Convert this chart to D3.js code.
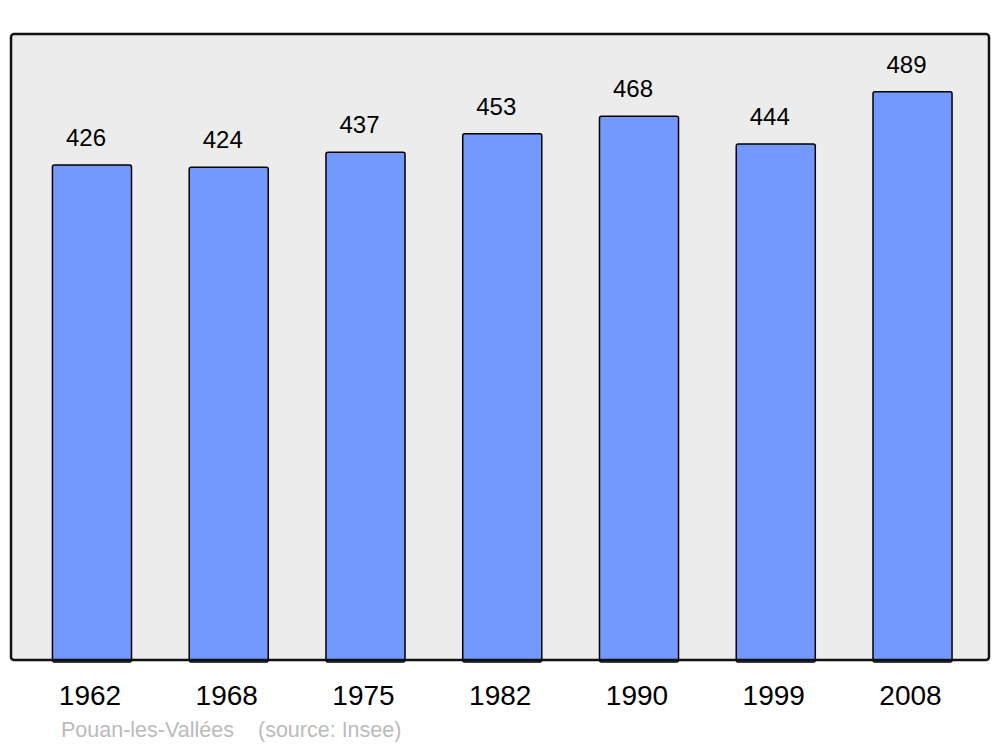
<!DOCTYPE html>
<html>
<head>
<meta charset="utf-8">
<script src="https://cdn.jsdelivr.net/npm/d3@7"></script>
<style>
  body { margin: 0; background: #fff; }
  text { font-family: "Liberation Sans", Arial, sans-serif; }
</style>
</head>
<body>
<svg id="chart" width="1000" height="747"></svg>
<script>
const years = ["1962", "1968", "1975", "1982", "1990", "1999", "2008"];
const population = [426, 424, 437, 453, 468, 444, 489];
const place = "Pouan-les-Vallées";
const source = "(source: Insee)";

const svg = d3.select("#chart");
const frame = {x: 11, y: 34, w: 978, h: 626};
const base = frame.y + frame.h;

const x = d3.scaleBand()
    .domain(years)
    .range([23.6, 980.9])
    .paddingInner(0.422)
    .paddingOuter(0.211);

const y = d3.scaleLinear()
    .domain([0, d3.max(population) * 1.1])
    .range([base, frame.y + 1]);

svg.append("rect")
    .attr("x", frame.x).attr("y", frame.y)
    .attr("width", frame.w).attr("height", frame.h)
    .attr("rx", 3)
    .attr("fill", "#ececec");

const bars = svg.append("g");
years.forEach((yr, i) => {
    const v = population[i];
    bars.append("rect")
        .attr("x", x(yr)).attr("y", y(v))
        .attr("width", x.bandwidth()).attr("height", base - y(v) + 2)
        .attr("rx", 2)
        .attr("fill", "#7399ff")
        .attr("stroke", "#000")
        .attr("stroke-width", 1.5);
    bars.append("text")
        .attr("x", x(yr) + x.bandwidth() / 2 - 6)
        .attr("y", y(v) - 19)
        .attr("text-anchor", "middle")
        .attr("font-size", 24)
        .text(v);
    bars.append("text")
        .attr("x", x(yr) + x.bandwidth() / 2 - 2)
        .attr("y", 705)
        .attr("text-anchor", "middle")
        .attr("font-size", 28)
        .text(yr);
});

// frame outline drawn on top so it covers the bar bottoms
svg.append("rect")
    .attr("x", frame.x).attr("y", frame.y)
    .attr("width", frame.w).attr("height", frame.h)
    .attr("rx", 3)
    .attr("fill", "none")
    .attr("stroke", "#111")
    .attr("stroke-width", 2.5);

svg.append("text")
    .attr("x", 61).attr("y", 737)
    .attr("font-size", 21.5)
    .attr("fill", "#bbb")
    .text(place);
svg.append("text")
    .attr("x", 258).attr("y", 737)
    .attr("font-size", 21.5)
    .attr("fill", "#bbb")
    .text(source);
</script>
</body>
</html>
